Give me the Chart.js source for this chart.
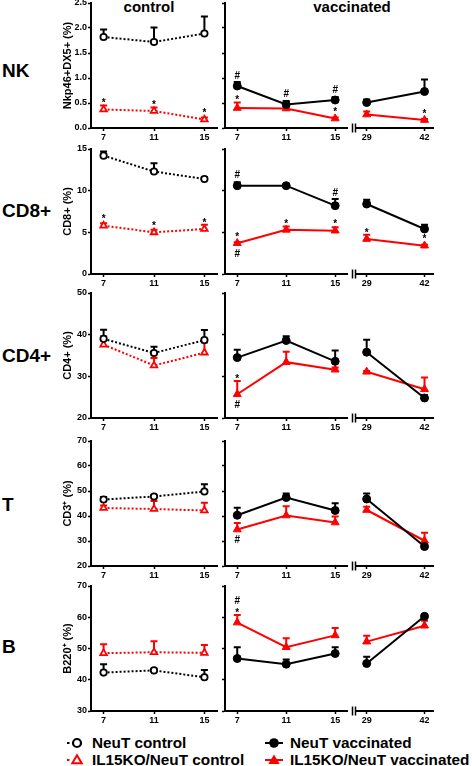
<!DOCTYPE html>
<html>
<head>
<meta charset="utf-8">
<script src="https://cdn.jsdelivr.net/npm/chart.js@4.4.1/dist/chart.umd.min.js"></script>
<style>
  body { margin: 0; background: #fff; }
  #fig { position: relative; width: 472px; height: 766px; overflow: hidden;
         font-family: "Liberation Sans", Arial, Helvetica, sans-serif; font-weight: bold; color: #000; }
  #fig canvas { position: absolute; }
  .lbl { position: absolute; white-space: nowrap; line-height: 1; }
  .row { font-size: 19px; left: 2px; }
  .col { font-size: 15px; top: -1px; transform: translateX(-50%); }
  .leg { position: absolute; font-size: 15.3px; line-height: 1; white-space: nowrap; }
  svg { position: absolute; }
</style>
</head>
<body>
<div id="fig">
  <div class="lbl col" style="left:149px">control</div>
  <div class="lbl col" style="left:352px">vaccinated</div>

  <div class="lbl row" style="top:60.7px">NK</div>
  <div class="lbl row" style="top:201.4px">CD8+</div>
  <div class="lbl row" style="top:345.7px">CD4+</div>
  <div class="lbl row" style="top:494.7px">T</div>
  <div class="lbl row" style="top:637.4px">B</div>

  <svg style="left:62px;top:735.8px" width="26" height="14">
    <line x1="5" y1="7" x2="7.5" y2="7" stroke="#000" stroke-width="2"/>
    <circle cx="15" cy="7" r="4" fill="#fff" stroke="#000" stroke-width="2.2"/>
  </svg>
  <div class="leg" style="left:92px;top:735.3px">NeuT control</div>
  <svg style="left:262px;top:735.8px" width="26" height="14">
    <line x1="3" y1="7" x2="21" y2="7" stroke="#000" stroke-width="2"/>
    <circle cx="12" cy="7" r="4.8" fill="#000"/>
  </svg>
  <div class="leg" style="left:290px;top:735.3px">NeuT vaccinated</div>

  <svg style="left:62px;top:752.8px" width="26" height="14">
    <line x1="5" y1="7" x2="7.5" y2="7" stroke="#f00" stroke-width="2"/>
    <polygon points="15,2.2 10.3,10.2 19.7,10.2" fill="#fff" stroke="#f00" stroke-width="2"/>
  </svg>
  <div class="leg" style="left:92px;top:752.3px">IL15KO/NeuT control</div>
  <svg style="left:262px;top:752.8px" width="26" height="14">
    <line x1="3" y1="7" x2="21" y2="7" stroke="#f00" stroke-width="2"/>
    <polygon points="12,1.5 6.3,11 17.7,11" fill="#f00"/>
  </svg>
  <div class="leg" style="left:290px;top:752.3px">IL15KO/NeuT vaccinated</div>
</div>

<script>
// days after treatment
var daysCtrl = [7, 11, 15];
var daysEarly = [7, 11, 15];
var daysLate = [29, 42];

// NK  (Nkp46+DX5+ %)
var nkCtrlNeuT = [1.82, 1.72, 1.89];
var nkCtrlNeuTErr = [0.15, 0.29, 0.34];
var nkCtrlKO = [0.37, 0.34, 0.17];
var nkCtrlKOErr = [0.08, 0.07, 0.04];
var nkCtrlKOMarks = ['*', '*', '*'];
var nkVacNeuT = [0.84, 0.47, 0.56, 0.51, 0.73];
var nkVacNeuTErr = [0.08, 0.07, 0.06, 0.06, 0.24];
var nkVacNeuTMarks = ['#', '#', '#', '', ''];
var nkVacKO = [0.40, 0.39, 0.19, 0.27, 0.16];
var nkVacKOErr = [0.11, 0.03, 0.02, 0.06, 0.02];
var nkVacKOMarks = ['*', '', '*', '', '*'];

// CD8+
var cd8CtrlNeuT = [14.2, 12.3, 11.4];
var cd8CtrlNeuTErr = [0.5, 1.0, 0.2];
var cd8CtrlKO = [5.8, 5.0, 5.4];
var cd8CtrlKOErr = [0.3, 0.3, 0.5];
var cd8CtrlKOMarks = ['*', '*', '*'];
var cd8VacNeuT = [10.6, 10.6, 8.2, 8.4, 5.4];
var cd8VacNeuTErr = [0.4, 0.1, 0.8, 0.5, 0.5];
var cd8VacNeuTMarks = ['#', '', '#', '', ''];
var cd8VacKO = [3.7, 5.3, 5.2, 4.2, 3.4];
var cd8VacKOErr = [0.1, 0.4, 0.4, 0.5, 0.1];
var cd8VacKOMarks = ['*', '*', '*', '*', '*'];
var cd8VacKOBelow = ['#', '', '', '', ''];

// CD4+
var cd4CtrlNeuT = [39.0, 35.6, 38.7];
var cd4CtrlNeuTErr = [2.2, 1.5, 2.4];
var cd4CtrlKO = [37.6, 32.6, 35.7];
var cd4CtrlKOErr = [2.0, 1.8, 2.4];
var cd4VacNeuT = [34.5, 38.6, 33.6, 35.8, 24.8];
var cd4VacNeuTErr = [1.9, 1.0, 2.6, 3.0, 0.7];
var cd4VacKO = [25.7, 33.4, 31.6, 31.1, 26.9];
var cd4VacKOErr = [3.2, 2.5, 0.5, 0.2, 2.8];
var cd4VacKOMarks = ['*', '', '', '', ''];
var cd4VacKOBelow = ['#', '', '', '', ''];

// T  (CD3+)
var tCtrlNeuT = [46.6, 47.8, 49.8];
var tCtrlNeuTErr = [1.0, 0.4, 2.9];
var tCtrlKO = [43.2, 42.8, 42.2];
var tCtrlKOErr = [1.0, 3.2, 3.1];
var tVacNeuT = [40.3, 47.4, 42.2, 46.8, 27.8];
var tVacNeuTErr = [3.0, 1.6, 2.9, 2.2, 1.0];
var tVacKO = [34.6, 40.2, 37.4, 42.4, 30.1];
var tVacKOErr = [2.6, 3.7, 2.4, 1.3, 3.2];
var tVacKOBelow = ['#', '', '', '', ''];

// B  (B220+)
var bCtrlNeuT = [42.3, 43.0, 40.8];
var bCtrlNeuTErr = [2.7, 0.3, 2.3];
var bCtrlKO = [48.5, 48.8, 48.6];
var bCtrlKOErr = [2.9, 3.5, 2.5];
var bVacNeuT = [46.8, 45.0, 48.4, 45.2, 60.3];
var bVacNeuTErr = [3.6, 1.5, 2.0, 2.2, 0.4];
var bVacKO = [58.3, 50.4, 54.2, 52.2, 57.3];
var bVacKOErr = [2.4, 2.9, 2.4, 1.9, 1.6];
var bVacKOMarks = ['#*', '', '', '', ''];

// y axes
var yTitles = ['Nkp46+DX5+ (%)', 'CD8+ (%)', 'CD4+ (%)', 'CD3\u207A (%)', 'B220\u207A (%)'];
var yMins = [0, 0, 20, 20, 30];
var yMaxs = [2.5, 15, 50, 70, 70];
var ySteps = [0.5, 5, 10, 10, 10];

var rows = [
  { c1: [nkCtrlNeuT, nkCtrlNeuTErr], c2: [nkCtrlKO, nkCtrlKOErr, nkCtrlKOMarks],
    v1: [nkVacNeuT, nkVacNeuTErr, nkVacNeuTMarks], v2: [nkVacKO, nkVacKOErr, nkVacKOMarks] },
  { c1: [cd8CtrlNeuT, cd8CtrlNeuTErr], c2: [cd8CtrlKO, cd8CtrlKOErr, cd8CtrlKOMarks],
    v1: [cd8VacNeuT, cd8VacNeuTErr, cd8VacNeuTMarks], v2: [cd8VacKO, cd8VacKOErr, cd8VacKOMarks, cd8VacKOBelow] },
  { c1: [cd4CtrlNeuT, cd4CtrlNeuTErr], c2: [cd4CtrlKO, cd4CtrlKOErr],
    v1: [cd4VacNeuT, cd4VacNeuTErr], v2: [cd4VacKO, cd4VacKOErr, cd4VacKOMarks, cd4VacKOBelow] },
  { c1: [tCtrlNeuT, tCtrlNeuTErr], c2: [tCtrlKO, tCtrlKOErr],
    v1: [tVacNeuT, tVacNeuTErr], v2: [tVacKO, tVacKOErr, null, tVacKOBelow] },
  { c1: [bCtrlNeuT, bCtrlNeuTErr], c2: [bCtrlKO, bCtrlKOErr],
    v1: [bVacNeuT, bVacNeuTErr], v2: [bVacKO, bVacKOErr, bVacKOMarks] }
];

var RED = '#ff0000';
var FONT = '"Liberation Sans", Arial, Helvetica, sans-serif';
Chart.defaults.font.family = FONT;
Chart.defaults.font.size = 9;
Chart.defaults.font.weight = 'bold';
Chart.defaults.color = '#000';

var styleCtrlNeuT = { borderColor: '#000', borderDash: [2, 2], pointStyle: 'circle', pointRadius: 3.2,
  pointBorderWidth: 1.8, pointBackgroundColor: '#fff', pointBorderColor: '#000' };
var styleCtrlKO = { borderColor: RED, borderDash: [2, 2], pointStyle: 'triangle', pointRadius: 3.8,
  pointBorderWidth: 1.8, pointBackgroundColor: '#fff', pointBorderColor: RED };
var styleVacNeuT = { borderColor: '#000', pointStyle: 'circle', pointRadius: 4,
  pointBorderWidth: 1, pointBackgroundColor: '#000', pointBorderColor: '#000' };
var styleVacKO = { borderColor: RED, pointStyle: 'triangle', pointRadius: 4.6,
  pointBorderWidth: 1, pointBackgroundColor: RED, pointBorderColor: RED };

function ds(days, s, from, to, style) {
  var vals = s[0].slice(from, to);
  return Object.assign({
    data: days.map(function (d, i) { return { x: d, y: vals[i] }; }),
    errs: s[1].slice(from, to),
    marks: s[2] ? s[2].slice(from, to) : [],
    below: s[3] ? s[3].slice(from, to) : [],
    showLine: true, clip: false, borderWidth: 2
  }, style);
}

// error bars (upper only) and significance marks
var errPlugin = {
  id: 'errbars',
  beforeDatasetsDraw: function (chart) {
    var ctx = chart.ctx, ys = chart.scales.y;
    chart.data.datasets.forEach(function (d, i) {
      var meta = chart.getDatasetMeta(i);
      ctx.save();
      ctx.strokeStyle = d.borderColor;
      ctx.lineWidth = 2;
      meta.data.forEach(function (p, j) {
        var e = d.errs[j];
        if (!e) return;
        var top = ys.getPixelForValue(d.data[j].y + e);
        ctx.beginPath();
        ctx.moveTo(p.x, p.y);
        ctx.lineTo(p.x, top);
        ctx.moveTo(p.x - 3.5, top);
        ctx.lineTo(p.x + 3.5, top);
        ctx.stroke();
      });
      ctx.restore();
    });
  },
  afterDatasetsDraw: function (chart) {
    var ctx = chart.ctx, ys = chart.scales.y;
    ctx.save();
    ctx.fillStyle = '#000';
    ctx.textAlign = 'center';
    ctx.textBaseline = 'middle';
    ctx.font = 'bold 10px ' + FONT;
    chart.data.datasets.forEach(function (d, i) {
      var meta = chart.getDatasetMeta(i);
      meta.data.forEach(function (p, j) {
        var top = Math.min(ys.getPixelForValue(d.data[j].y + (d.errs[j] || 0)), p.y - 4);
        var m = d.marks[j] || '';
        var y = top;
        for (var k = m.length - 1; k >= 0; k--) {
          if (m[k] === '*') { ctx.fillText('*', p.x, y - 2); y -= 8; }
          else { ctx.fillText('#', p.x, y - 6); y -= 11; }
        }
        if (d.below[j]) ctx.fillText(d.below[j], p.x, p.y + 11);
      });
    });
    ctx.restore();
  }
};

var breakPlugin = {
  id: 'axisbreak',
  afterDraw: function (chart) {
    var ctx = chart.ctx, a = chart.chartArea;
    ctx.save();
    ctx.strokeStyle = '#000';
    ctx.lineWidth = 1.5;
    [a.left - 3.5, a.left - 0.5].forEach(function (x) {
      ctx.beginPath();
      ctx.moveTo(x, a.bottom - 4.5);
      ctx.lineTo(x, a.bottom + 4.5);
      ctx.stroke();
    });
    ctx.restore();
  }
};

var gridOpts = { display: true, drawOnChartArea: false, drawTicks: true, tickLength: 3,
  tickWidth: 1.5, tickColor: '#000' };
var borderOpts = { display: true, color: '#000', width: 2 };

function xScale(min, max, ticks) {
  return {
    type: 'linear', min: min, max: max,
    afterBuildTicks: function (s) { s.ticks = ticks.map(function (v) { return { value: v }; }); },
    afterFit: function (s) { s.height = 22; },
    grid: gridOpts, border: borderOpts,
    ticks: { padding: 1, autoSkip: false, maxRotation: 0, callback: function (v) { return String(v); } }
  };
}

function yScale(r, width, labels, title) {
  return {
    type: 'linear', min: yMins[r], max: yMaxs[r], display: width > 0,
    afterFit: function (s) { s.width = width; },
    grid: gridOpts, border: borderOpts,
    ticks: { stepSize: ySteps[r], display: labels, padding: 1,
      callback: function (v) { return r === 0 ? Number(v).toFixed(1) : v; } },
    title: { display: !!title, text: title, font: { size: 11, weight: 'bold' }, padding: 0 }
  };
}

function makeChart(left, top, width, padL, padR, xs, ys, datasets, plugins) {
  var c = document.createElement('canvas');
  c.width = width;
  c.height = 157;
  c.style.left = left + 'px';
  c.style.top = top + 'px';
  document.getElementById('fig').appendChild(c);
  return new Chart(c.getContext('2d'), {
    type: 'scatter',
    data: { datasets: datasets },
    options: {
      responsive: false, animation: false, devicePixelRatio: 1,
      layout: { padding: { top: 10, bottom: 0, left: padL, right: padR } },
      plugins: { legend: { display: false }, tooltip: { enabled: false } },
      scales: { x: xs, y: ys }
    },
    plugins: plugins
  });
}

var rowTops = [3, 149, 293, 441, 586];

rows.forEach(function (row, r) {
  var top = rowTops[r] - 10;
  // control
  makeChart(61, top, 162, 0, 6, xScale(6, 16, daysCtrl), yScale(r, 30, true, yTitles[r]), [
    ds(daysCtrl, row.c1, 0, 3, styleCtrlNeuT),
    ds(daysCtrl, row.c2, 0, 3, styleCtrlKO)
  ], [errPlugin]);
  // vaccinated, days 7-15
  makeChart(219, top, 134, 0, 2, xScale(6, 16, daysEarly), yScale(r, 6, false, ''), [
    ds(daysEarly, row.v1, 0, 3, styleVacNeuT),
    ds(daysEarly, row.v2, 0, 3, styleVacKO)
  ], [errPlugin]);
  // vaccinated, days 29-42
  makeChart(348, top, 91, 8, 4, xScale(26.6, 44, daysLate), yScale(r, 0, false, ''), [
    ds(daysLate, row.v1, 3, 5, styleVacNeuT),
    ds(daysLate, row.v2, 3, 5, styleVacKO)
  ], [errPlugin, breakPlugin]);
});
</script>
</body>
</html>
